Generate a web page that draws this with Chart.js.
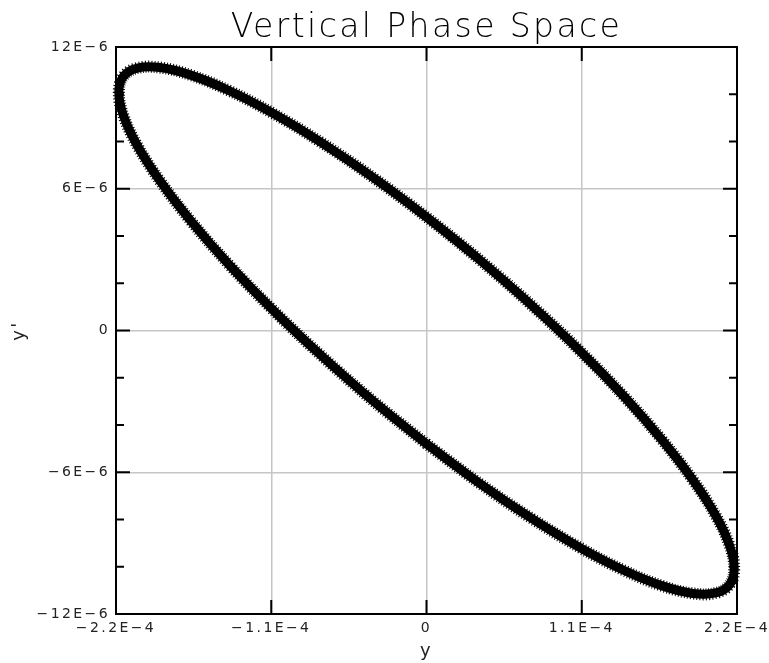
<!DOCTYPE html>
<html>
<head>
<meta charset="utf-8">
<script src="https://cdn.jsdelivr.net/npm/chart.js@4/dist/chart.umd.min.js"></script>
<style>
  html, body { margin: 0; padding: 0; background: #fff; }
  #wrap { width: 769px; height: 663px; }
</style>
</head>
<body>
<div id="wrap"><canvas id="phase"></canvas></div>
<script>
// Vertical phase space: (y, y') samples around the beam ellipse, one lap, closed
const yPos = [0, -3.79e-5, -7.46e-5, -1.090e-4, -1.401e-4, -1.670e-4, -1.888e-4, -2.049e-4, -2.147e-4,
  -2.180e-4, -2.147e-4, -2.049e-4, -1.888e-4, -1.670e-4, -1.401e-4, -1.090e-4, -7.46e-5, -3.79e-5,
  0, 3.79e-5, 7.46e-5, 1.090e-4, 1.401e-4, 1.670e-4, 1.888e-4, 2.049e-4, 2.147e-4,
  2.180e-4, 2.147e-4, 2.049e-4, 1.888e-4, 1.670e-4, 1.401e-4, 1.090e-4, 7.46e-5, 3.79e-5, 0];
const yAng = [-4.80e-6, -2.98e-6, -1.06e-6, 0.88e-6, 2.80e-6, 4.64e-6, 6.33e-6, 7.83e-6, 9.09e-6,
  10.08e-6, 10.76e-6, 11.11e-6, 11.13e-6, 10.81e-6, 10.16e-6, 9.20e-6, 7.96e-6, 6.48e-6,
  4.80e-6, 2.98e-6, 1.06e-6, -0.88e-6, -2.80e-6, -4.64e-6, -6.33e-6, -7.83e-6, -9.09e-6,
  -10.08e-6, -10.76e-6, -11.11e-6, -11.13e-6, -10.81e-6, -10.16e-6, -9.20e-6, -7.96e-6, -6.48e-6, -4.80e-6];

const xTicks = [-2.2e-4, -1.1e-4, 0, 1.1e-4, 2.2e-4];
const xTickLabels = ['\u22122.2E\u22124', '\u22121.1E\u22124', '0', '1.1E\u22124', '2.2E\u22124'];
const yTicks = [-12e-6, -6e-6, 0, 6e-6, 12e-6];
const yTickLabels = ['\u221212E\u22126', '\u22126E\u22126', '0', '6E\u22126', '12E\u22126'];
const yMinorTicks = [-10e-6, -8e-6, -4e-6, -2e-6, 2e-6, 4e-6, 8e-6, 10e-6];

const FONT = "'DejaVu Sans', 'Liberation Sans', sans-serif";
const MAJOR = 14, MINOR = 8;

const points = yPos.map((v, i) => ({ x: v, y: yAng[i] }));

// wide, airy lettering for all canvas text
const spacing = {
  id: 'spacing',
  beforeUpdate(chart) { chart.ctx.letterSpacing = '2.4px'; },
  beforeDraw(chart) { chart.ctx.letterSpacing = '2.4px'; }
};

// box frame with inward tick marks on all four sides
const frameTicks = {
  id: 'frameTicks',
  afterDraw(chart) {
    const { ctx, chartArea: a, scales: { x, y } } = chart;
    ctx.save();
    ctx.strokeStyle = '#000';
    ctx.lineWidth = 2;
    ctx.strokeRect(a.left, a.top, a.right - a.left, a.bottom - a.top);
    ctx.beginPath();
    xTicks.forEach(v => {
      const px = x.getPixelForValue(v);
      ctx.moveTo(px, a.bottom); ctx.lineTo(px, a.bottom - MAJOR);
      ctx.moveTo(px, a.top); ctx.lineTo(px, a.top + MAJOR);
    });
    yTicks.forEach(v => {
      const py = y.getPixelForValue(v);
      ctx.moveTo(a.left, py); ctx.lineTo(a.left + MAJOR, py);
      ctx.moveTo(a.right, py); ctx.lineTo(a.right - MAJOR, py);
    });
    yMinorTicks.forEach(v => {
      const py = y.getPixelForValue(v);
      ctx.moveTo(a.left, py); ctx.lineTo(a.left + MINOR, py);
      ctx.moveTo(a.right, py); ctx.lineTo(a.right - MINOR, py);
    });
    ctx.stroke();
    ctx.restore();
  }
};

const tickFont = { family: FONT, size: 14, weight: 'normal' };
const gridOpts = { color: '#c6c6c6', lineWidth: 1.5, drawTicks: false };

new Chart(document.getElementById('phase'), {
  type: 'scatter',
  data: {
    datasets: [
      {
        // serrated outer edge of the band
        data: points,
        showLine: true,
        borderColor: '#000',
        borderWidth: 12,
        borderDash: [1, 2],
        pointRadius: 0,
        tension: 0.4,
        clip: 12
      },
      {
        data: points,
        showLine: true,
        borderColor: '#000',
        borderWidth: 9,
        pointRadius: 0,
        tension: 0.4,
        clip: 12
      }
    ]
  },
  options: {
    responsive: true,
    maintainAspectRatio: false,
    animation: false,
    layout: { padding: { left: 0, right: 32, top: 0, bottom: 0 } },
    plugins: {
      legend: { display: false },
      tooltip: { enabled: false },
      title: {
        display: true,
        fullSize: false,
        text: 'Vertical Phase Space',
        color: '#000',
        font: { family: FONT, size: 33, weight: '200', lineHeight: 1 },
        padding: { top: 12, bottom: 2 }
      }
    },
    scales: {
      x: {
        type: 'linear',
        min: -2.2e-4,
        max: 2.2e-4,
        afterBuildTicks: s => { s.ticks = xTicks.map(v => ({ value: v })); },
        afterFit: s => { s.height = 49; s.paddingLeft = 0; s.paddingRight = 0; },
        ticks: {
          callback: (v, i) => xTickLabels[i],
          color: '#222',
          font: tickFont,
          padding: 6,
          maxRotation: 0,
          autoSkip: false
        },
        grid: gridOpts,
        border: { display: false },
        title: {
          display: true,
          text: 'y',
          color: '#222',
          font: { family: FONT, size: 18, weight: 'normal' },
          padding: { top: 0, bottom: 1 }
        }
      },
      y: {
        type: 'linear',
        min: -12e-6,
        max: 12e-6,
        afterBuildTicks: s => { s.ticks = yTicks.map(v => ({ value: v })); },
        afterFit: s => { s.width = 116; s.paddingTop = 0; s.paddingBottom = 0; },
        ticks: {
          callback: (v, i) => yTickLabels[i],
          color: '#222',
          font: tickFont,
          padding: 6,
          autoSkip: false
        },
        grid: gridOpts,
        border: { display: false },
        title: {
          display: true,
          text: "y'",
          color: '#222',
          font: { family: FONT, size: 18, weight: 'normal' },
          padding: { top: 9, bottom: 0 }
        }
      }
    }
  },
  plugins: [spacing, frameTicks]
});
</script>
</body>
</html>
